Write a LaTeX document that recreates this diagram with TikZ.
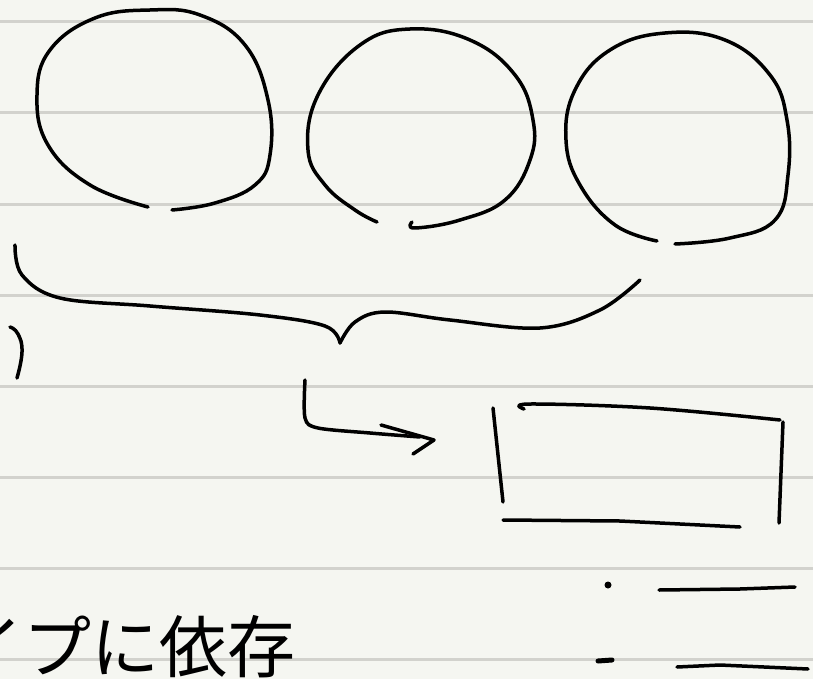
\documentclass[tikz,border=0pt]{standalone}
\usepackage{fontspec}
\newfontfamily\jpfont{Noto Sans CJK JP}
\usetikzlibrary{positioning}
\definecolor{paper}{HTML}{F5F6F1}
\definecolor{rulegray}{HTML}{D2D2CD}

\begin{document}
\begin{tikzpicture}[x=1pt,y=-1pt,
  ink/.style={line width=3.5pt,line cap=round,line join=round},
  ruling/.style={rulegray,line width=3pt}]
  \useasboundingbox (0,0) rectangle (813,679);
  \clip (0,0) rectangle (813,679);
  \fill[paper] (0,0) rectangle (813,679);
  \foreach \y in {22,113,...,659} \draw[ruling] (0,\y) -- (813,\y);
  % three circles
  \draw[ink] plot[smooth,tension=0.7] coordinates {(172,210) (215,203) (255,185) (270,155) (268,100) (245,45) (200,15) (150,10) (95,18) (50,50) (37,95) (48,145) (90,185) (148,207)};
  \draw[ink] plot[smooth,tension=0.7] coordinates {(412,222) (415,228) (460,220) (505,200) (530,160) (533,120) (515,75) (470,40) (410,29) (360,45) (318,95) (308,150) (325,185) (355,210) (377,222)};
  \draw[ink] plot[smooth,tension=0.7] coordinates {(675,244) (730,238) (775,220) (788,175) (787,120) (770,75) (725,40) (665,33) (610,50) (575,90) (566,140) (580,185) (615,225) (657,241)};
  % brace
  \draw[ink] plot[smooth,tension=0.6] coordinates {(15,245) (22,275) (60,298) (150,306) (260,315) (325,326) (340,343)};
  \draw[ink] plot[smooth,tension=0.6] coordinates {(340,343) (355,322) (385,312) (450,320) (540,328) (600,310) (640,280)};
  \draw[ink] plot[smooth,tension=0.8] coordinates {(10,327) (18,334) (22,352) (17,378)};
  % arrow
  \draw[ink] plot[smooth,tension=0.5] coordinates {(305,380) (305,418) (318,428) (370,433) (420,437)};
  \draw[ink] (381,425) -- (434,440) -- (413,454);
  % box
  \draw[ink] (493,408) -- (503,502);
  \draw[ink] plot[smooth,tension=0.6] coordinates {(524,409) (530,404) (650,408) (780,420)};
  \draw[ink] (783,422) -- (779,523);
  \draw[ink] (503,520) -- (620,521) -- (740,527);
  % list marks
  \fill (608,585) circle (3.5pt);
  \draw[ink] (659,590) -- (740,589) -- (795,587);
  \draw[ink,line width=5pt] (598,661) -- (612,660);
  \draw[ink] (677,667) -- (720,665) -- (808,669);
  % text
  \node[anchor=base west,inner sep=0pt,font=\jpfont\fontsize{68}{68}\selectfont] (memo) at (-45,672) {イプに依存};
\end{tikzpicture}
\end{document}
